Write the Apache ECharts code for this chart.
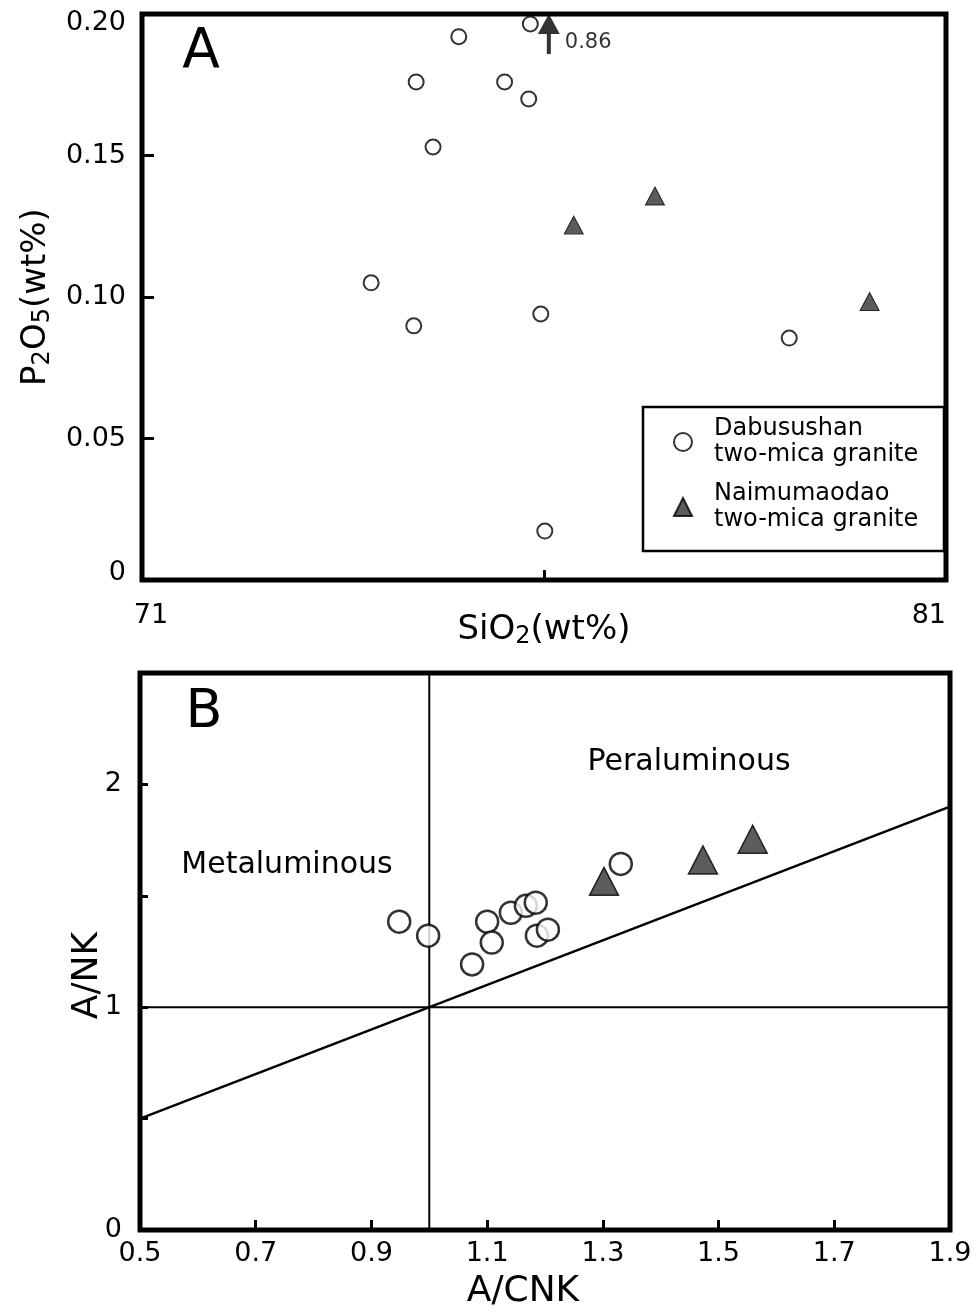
<!DOCTYPE html>
<html>
<head>
<meta charset="utf-8">
<title>P2O5 vs SiO2 / A/NK vs A/CNK</title>
<script src="https://cdn.jsdelivr.net/npm/echarts@6/dist/echarts.min.js"></script>
<style>
  html, body { margin: 0; padding: 0; background: #fff; }
  #chart { width: 979px; height: 1311px; }
</style>
</head>
<body>
<div id="chart"></div>
<script>
// panel A: SiO2 vs P2O5
var dabA = [[73.85,0.105],[74.38,0.0898],[74.41,0.176],[74.62,0.153],[74.94,0.192],[75.51,0.176],
            [75.81,0.170],[75.83,0.1965],[75.96,0.094],[76.01,0.0173],[79.05,0.0855]];
var naiA = [[76.37,0.1254],[77.38,0.1357],[80.05,0.0984]];
// off-scale Naimumaodao sample (drawn as arrow at the top, true value 0.86)
var offA = [[76.06,0.2,0.86]];

// panel B: A/CNK vs A/NK
var dabB = [[0.948,1.384],[0.998,1.321],[1.100,1.384],[1.108,1.290],[1.074,1.192],[1.141,1.424],
            [1.167,1.455],[1.184,1.469],[1.186,1.321],[1.205,1.348],[1.331,1.643]];
var naiB = [[1.302,1.565],[1.473,1.661],[1.559,1.754]];

// reference lines in B
var lineOneToOne = [[0.5,0.5],[1.9,1.9]];
var lineANK1 = [[0.5,1],[1.9,1]];
var lineACNK1 = [[1,0],[1,2.5]];

var nameDab = 'Dabusushan\ntwo-mica granite';
var nameNai = 'Naimumaodao\ntwo-mica granite';

var FONT = 'DejaVu Sans';
var chart = echarts.init(document.getElementById('chart'));

var tickTxt = { color: '#000', fontSize: 27, fontFamily: FONT };
var openCircle = { color: '#fff', borderColor: '#000', borderWidth: 2 };
var darkTri = { color: '#333', borderColor: '#000', borderWidth: 1 };

chart.setOption({
  animation: false,
  backgroundColor: '#fff',
  textStyle: { fontFamily: FONT, color: '#000' },
  grid: [
    { left: 142, top: 14, width: 804, height: 566, show: true, borderColor: '#000', borderWidth: 5 },
    { left: 140, top: 673, width: 810, height: 560, show: true, borderColor: '#000', borderWidth: 5 }
  ],
  xAxis: [
    {
      gridIndex: 0, type: 'value', min: 71, max: 81, interval: 5,
      axisLine: { show: false },
      axisTick: { inside: true, length: 10, lineStyle: { color: '#000', width: 3 } },
      splitLine: { show: false },
      axisLabel: Object.assign({ margin: 22, alignMaxLabel: 'right',
        formatter: function (v) { return v === 76 ? '' : (v === 71 ? '{l|71}' : String(v)); },
        rich: { l: { fontSize: 27, fontFamily: FONT, color: '#000', padding: [0, 0, 0, 18] } } }, tickTxt),
      name: '{n|SiO}{s|2}{n|(wt%)}', nameLocation: 'middle', nameGap: 31, nameMoveOverlap: false,
      nameTextStyle: { rich: {
        n: { fontSize: 34, fontFamily: FONT, color: '#000' },
        s: { fontSize: 24, fontFamily: FONT, color: '#000', padding: [14, 0, 0, 0] }
      } }
    },
    {
      gridIndex: 1, type: 'value', min: 0.5, max: 1.9, interval: 0.2,
      axisLine: { show: false },
      axisTick: { inside: true, length: 10, lineStyle: { color: '#000', width: 3 } },
      splitLine: { show: false },
      axisLabel: Object.assign({ margin: 10, formatter: function (v) { return v.toFixed(1); } }, tickTxt),
      name: 'A/CNK', nameLocation: 'middle', nameGap: 44, nameMoveOverlap: false,
      nameTextStyle: { fontSize: 36, fontFamily: FONT, color: '#000', padding: [0, 44, 0, 0] }
    }
  ],
  yAxis: [
    {
      gridIndex: 0, type: 'value', min: 0, max: 0.2, interval: 0.05,
      axisLine: { show: false },
      axisTick: { inside: true, length: 12, lineStyle: { color: '#000', width: 3 } },
      splitLine: { show: false },
      axisLabel: Object.assign({ margin: 16,
        formatter: function (v) {
          if (v === 0) return '{b|0}';
          if (v === 0.2) return '{t|0.20}';
          return v.toFixed(2);
        },
        rich: {
          t: { fontSize: 27, fontFamily: FONT, color: '#000', padding: [18, 0, 0, 0] },
          b: { fontSize: 27, fontFamily: FONT, color: '#000', padding: [0, 0, 14, 0] }
        } }, tickTxt),
      name: '{n|P}{s|2}{n|O}{s|5}{n|(wt%)}', nameLocation: 'middle', nameGap: 87, nameRotate: 90,
      nameMoveOverlap: false,
      nameTextStyle: { rich: {
        n: { fontSize: 34, fontFamily: FONT, color: '#000' },
        s: { fontSize: 24, fontFamily: FONT, color: '#000', padding: [14, 0, 0, 0] }
      } }
    },
    {
      gridIndex: 1, type: 'value', min: 0, max: 2.5, interval: 0.5,
      axisLine: { show: false },
      axisTick: { inside: true, length: 8, lineStyle: { color: '#000', width: 3 } },
      splitLine: { show: false },
      axisLabel: Object.assign({ margin: 18, formatter: function (v) { return v % 1 === 0 ? String(v) : ''; } }, tickTxt),
      name: 'A/NK', nameLocation: 'middle', nameGap: 34, nameRotate: 90, nameMoveOverlap: false,
      nameTextStyle: { fontSize: 36, fontFamily: FONT, color: '#000', padding: [0, 48, 0, 0] }
    }
  ],
  legend: {
    orient: 'vertical', left: 668, top: 411, itemGap: 13,
    itemWidth: 18, itemHeight: 18, z: 10,
    data: [nameDab, nameNai],
    selectedMode: false,
    textStyle: { fontSize: 24, lineHeight: 26, fontFamily: FONT, color: '#000', padding: [0, 0, 0, 17] }
  },
  graphic: [
    { type: 'rect', z: 5, shape: { x: 643, y: 407, width: 301, height: 144 },
      style: { fill: 'transparent', stroke: '#000', lineWidth: 2.5 } },
    { type: 'text', x: 201, y: 53, style: { text: 'A', fontSize: 55, fontFamily: FONT, fill: '#000', align: 'center', verticalAlign: 'middle' } },
    { type: 'text', x: 204, y: 713, style: { text: 'B', fontSize: 54, fontFamily: FONT, fill: '#000', align: 'center', verticalAlign: 'middle' } },
    { type: 'text', x: 689, y: 762, style: { text: 'Peraluminous', fontSize: 30, fontFamily: FONT, fill: '#000', align: 'center', verticalAlign: 'middle' } },
    { type: 'text', x: 287, y: 865, style: { text: 'Metaluminous', fontSize: 30, fontFamily: FONT, fill: '#000', align: 'center', verticalAlign: 'middle' } }
  ],
  series: [
    { name: nameDab, type: 'scatter', xAxisIndex: 0, yAxisIndex: 0, data: dabA,
      symbol: 'circle', symbolSize: 15, itemStyle: openCircle, z: 3 },
    { name: nameNai, type: 'scatter', xAxisIndex: 0, yAxisIndex: 0, data: naiA,
      symbol: 'triangle', symbolSize: [19, 18], itemStyle: darkTri, z: 3 },
    { name: 'offscale', type: 'scatter', xAxisIndex: 0, yAxisIndex: 0, data: offA, clip: false,
      symbol: 'path://M11,0 L22,20 L13,20 L13,40 L9,40 L9,20 L0,20 Z',
      symbolSize: [22, 40], symbolOffset: [0, 20], itemStyle: { color: '#000' }, z: 4,
      label: { show: true, position: 'right', distance: 5, offset: [0, 9], fontSize: 21,
        fontFamily: FONT, color: '#000', formatter: function (p) { return p.value[2].toFixed(2); } } },

    { name: 'line1to1', type: 'line', xAxisIndex: 1, yAxisIndex: 1, data: lineOneToOne,
      showSymbol: false, silent: true, lineStyle: { color: '#000', width: 2.5 }, z: 1 },
    { name: 'lineANK', type: 'line', xAxisIndex: 1, yAxisIndex: 1, data: lineANK1,
      showSymbol: false, silent: true, lineStyle: { color: '#000', width: 2 }, z: 1 },
    { name: 'lineACNK', type: 'line', xAxisIndex: 1, yAxisIndex: 1, data: lineACNK1,
      showSymbol: false, silent: true, lineStyle: { color: '#000', width: 2 }, z: 1 },
    { name: nameDab, type: 'scatter', xAxisIndex: 1, yAxisIndex: 1, data: dabB,
      symbol: 'circle', symbolSize: 22, itemStyle: { color: '#fff', borderColor: '#000', borderWidth: 2.5 }, z: 3 },
    { name: nameNai, type: 'scatter', xAxisIndex: 1, yAxisIndex: 1, data: naiB,
      symbol: 'triangle', symbolSize: [29, 28], itemStyle: { color: '#333', borderColor: '#000', borderWidth: 1.5 }, z: 3 }
  ]
});
window.onresize = chart.resize;
</script>
</body>
</html>
